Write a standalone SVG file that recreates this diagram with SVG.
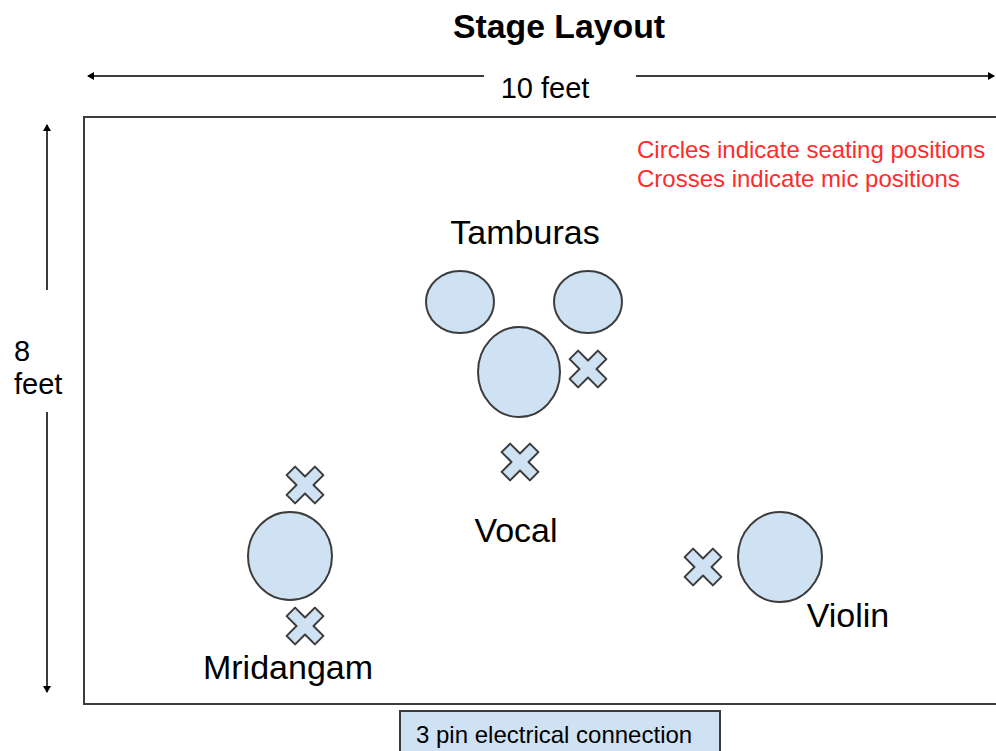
<svg xmlns="http://www.w3.org/2000/svg" width="996" height="751" viewBox="0 0 996 751">
<style>
.t{font-family:"Liberation Sans",Arial,sans-serif;fill:#000}
.seat{fill:#cfe2f3;stroke:#3c3c3c;stroke-width:2}
.mic{fill:#cfe2f3;stroke:#3c3c3c;stroke-width:2;stroke-linejoin:round}
.ln{stroke:#3c3c3c;stroke-width:2;fill:none}
.red{font-family:"Liberation Sans",Arial,sans-serif;fill:#ff2b2b;font-size:24px}
</style>
<defs>
<marker id="ah" markerWidth="8" markerHeight="8" refX="6" refY="4" orient="auto" markerUnits="userSpaceOnUse">
<path d="M0,0 L7,4 L0,8 Z" fill="#000"/>
</marker>
<path id="x" d="M-6,-20 L6,-20 L6,-6 L20,-6 L20,6 L6,6 L6,20 L-6,20 L-6,6 L-20,6 L-20,-6 L-6,-6 Z" transform="rotate(45)"/>
</defs>
<rect width="996" height="751" fill="#fff"/>
<text class="t" x="559" y="38" font-size="33" font-weight="bold" text-anchor="middle" textLength="212" lengthAdjust="spacingAndGlyphs">Stage Layout</text>
<g id="connectors">
<line class="ln" x1="484" y1="76" x2="88" y2="76" marker-end="url(#ah)"/>
<line class="ln" x1="636" y1="76" x2="994" y2="76" marker-end="url(#ah)"/>
<line class="ln" x1="47" y1="290" x2="47" y2="125" marker-end="url(#ah)"/>
<line class="ln" x1="47" y1="412" x2="47" y2="692" marker-end="url(#ah)"/>
</g>
<text class="t" x="545" y="98" font-size="29" text-anchor="middle">10 feet</text>
<text class="t" x="14" y="361" font-size="29">8</text>
<text class="t" x="14" y="394" font-size="29">feet</text>
<g id="stage"><rect class="ln" x="84" y="117" width="930" height="587"/></g>
<text class="red" x="637" y="158">Circles indicate seating positions</text>
<text class="red" x="637" y="187">Crosses indicate mic positions</text>
<g id="tamburas">
<ellipse class="seat" cx="460" cy="302" rx="34" ry="31"/>
<ellipse class="seat" cx="588" cy="302" rx="34" ry="31"/>
<text class="t" x="525" y="244" font-size="34" text-anchor="middle">Tamburas</text>
</g>
<g id="vocal">
<ellipse class="seat" cx="519" cy="372" rx="41" ry="45"/>
<use href="#x" class="mic" transform="translate(588,369)"/>
<use href="#x" class="mic" transform="translate(520,462)"/>
<text class="t" x="516" y="542" font-size="34" text-anchor="middle">Vocal</text>
</g>
<g id="mridangam">
<ellipse class="seat" cx="290" cy="556" rx="42" ry="44"/>
<use href="#x" class="mic" transform="translate(305,485)"/>
<use href="#x" class="mic" transform="translate(305,626)"/>
<text class="t" x="288" y="679" font-size="34" text-anchor="middle">Mridangam</text>
</g>
<g id="violin">
<ellipse class="seat" cx="780" cy="557" rx="42" ry="45"/>
<use href="#x" class="mic" transform="translate(703,567)"/>
<text class="t" x="848" y="627" font-size="34" text-anchor="middle">Violin</text>
</g>
<g id="power">
<rect class="seat" x="400" y="711" width="320" height="50"/>
<text class="t" x="416" y="743" font-size="24">3 pin electrical connection</text>
</g>
</svg>
